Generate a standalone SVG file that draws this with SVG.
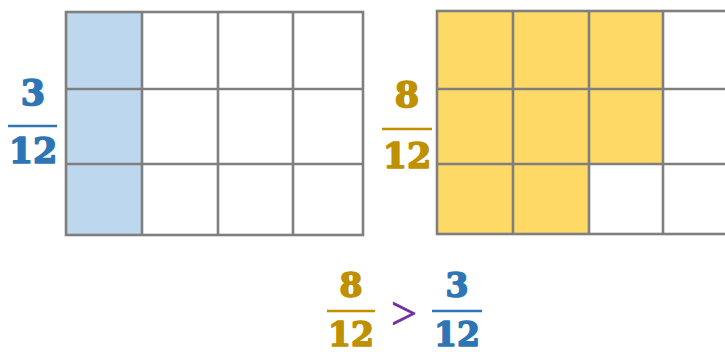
<svg xmlns="http://www.w3.org/2000/svg" width="725" height="352" viewBox="0 0 725 352">
<style>
.grid{fill:none;stroke:#7f7f7f;stroke-width:2.6}
.blue{fill:#BDD7EE}
.gold{fill:#FFD966}
.num{font-family:"DejaVu Serif","Liberation Serif",serif;font-weight:bold;text-anchor:middle;stroke-width:1.6;stroke-linejoin:round}
.tb{fill:#2E75B6;stroke:#2E75B6}
.tg{fill:#BF9000;stroke:#BF9000}
.lb{stroke:#2E75B6;stroke-width:2.6}
.lg{stroke:#BF9000;stroke-width:2.6}
</style>
<rect width="725" height="352" fill="#ffffff"/>
<g id="left-grid">
<rect class="blue" x="66" y="12" width="76" height="223"/>
<rect class="grid" x="66" y="12" width="297" height="223"/>
<path class="grid" d="M142 12V235M218 12V235M293 12V235M66 89H363M66 164H363"/>
</g>
<g id="right-grid">
<rect class="gold" x="437" y="11" width="226" height="153"/>
<rect class="gold" x="437" y="164" width="152" height="70"/>
<rect class="grid" x="437" y="11" width="310" height="223"/>
<path class="grid" d="M513 11V234M589 11V234M663 11V234M437 89H727M437 164H727"/>
</g>
<g id="left-fraction">
<text class="num tb" x="33" y="105" font-size="35">3</text>
<line class="lb" x1="8" y1="126" x2="57" y2="126"/>
<text class="num tb" x="33" y="163" font-size="35">12</text>
</g>
<g id="right-fraction">
<text class="num tg" x="407" y="107" font-size="35">8</text>
<line class="lg" x1="382" y1="129" x2="432" y2="129"/>
<text class="num tg" x="407" y="168" font-size="35">12</text>
</g>
<g id="comparison">
<text class="num tg" x="351" y="297" font-size="33">8</text>
<line class="lg" x1="327" y1="311" x2="375" y2="311"/>
<text class="num tg" x="351" y="346" font-size="33">12</text>
<text x="404" y="329" font-family="Liberation Serif, serif" font-size="46" fill="#7030A0" stroke="#7030A0" stroke-width="0.8" text-anchor="middle">&gt;</text>
<text class="num tb" x="457" y="297" font-size="33">3</text>
<line class="lb" x1="432" y1="311" x2="482" y2="311"/>
<text class="num tb" x="457" y="346" font-size="33">12</text>
</g>
</svg>
